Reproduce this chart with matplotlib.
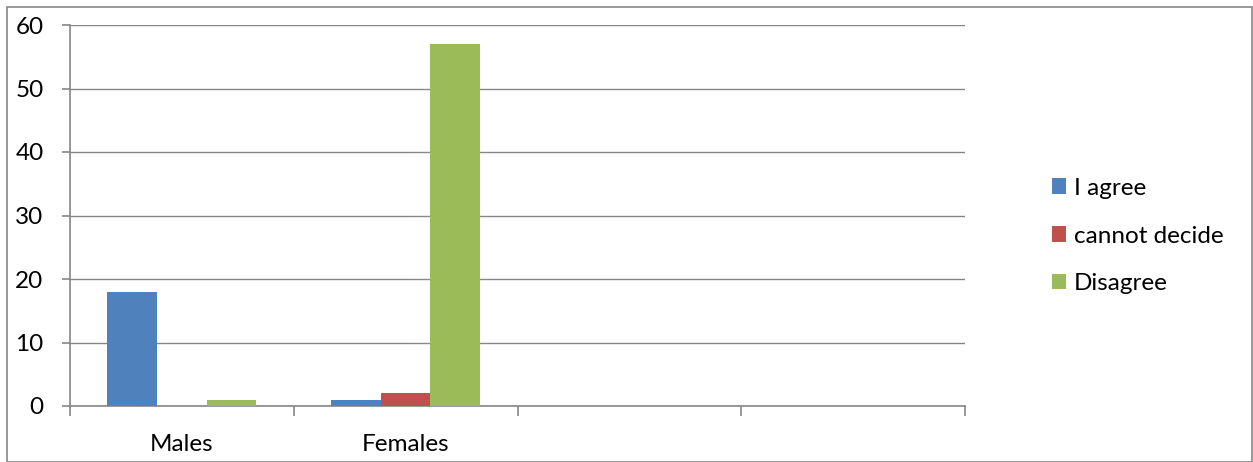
import numpy as np
import matplotlib.pyplot as plt
from matplotlib.patches import Rectangle

# survey answers per group
categories = ['Males', 'Females', '', '']
series_names = ['I agree', 'cannot decide', 'Disagree']
agree = [18, 1, 0, 0]
undecided = [0, 2, 0, 0]
disagree = [1, 57, 0, 0]

colors = ['#4F81BD', '#C0504D', '#9BBB59']
grey = '#868686'
fs = 17.5

plt.rcParams['font.family'] = ['Lato', 'DejaVu Sans']

fig = plt.figure(figsize=(12.53, 4.62), dpi=100)
ax = fig.add_axes([70 / 1253, 1 - 406 / 462, 895 / 1253, 381 / 462])

# outer chart frame
fig.patches.append(Rectangle((6.5 / 1253, 0), 1245.5 / 1253, 1 - 7 / 462,
                             transform=fig.transFigure, fill=False,
                             edgecolor=grey, linewidth=1.2))

x = np.arange(len(categories))
w = 1 / 4.5
for i, (vals, name) in enumerate(zip([agree, undecided, disagree], series_names)):
    ax.bar(x + (i - 1) * w, vals, width=w, color=colors[i], label=name,
           zorder=3)

ax.set_xlim(-0.5, len(categories) - 0.5)
ax.set_ylim(0, 60)
ax.set_yticks(range(0, 61, 10))
ax.yaxis.grid(True, color=grey, linewidth=1)
ax.set_axisbelow(True)

ax.set_xticks(x)
ax.set_xticklabels(categories)
ax.set_xticks(np.arange(-0.5, len(categories)), minor=True)
ax.tick_params(axis='x', which='major', length=0, pad=20, labelsize=fs)
ax.tick_params(axis='x', which='minor', length=7, width=1.2, color=grey)
ax.tick_params(axis='y', length=6, width=1.2, color=grey, pad=13,
               labelsize=fs)

for side in ['top', 'right']:
    ax.spines[side].set_visible(False)
for side in ['left', 'bottom']:
    ax.spines[side].set_color(grey)
    ax.spines[side].set_linewidth(1.2)

leg = fig.legend(loc='center left', bbox_to_anchor=(1030 / 1253, 1 - 236 / 462),
                 frameon=False, fontsize=fs, handlelength=0.6,
                 handleheight=0.6, handletextpad=0.3, labelspacing=1.1)

fig.savefig('out.png', dpi=100)
